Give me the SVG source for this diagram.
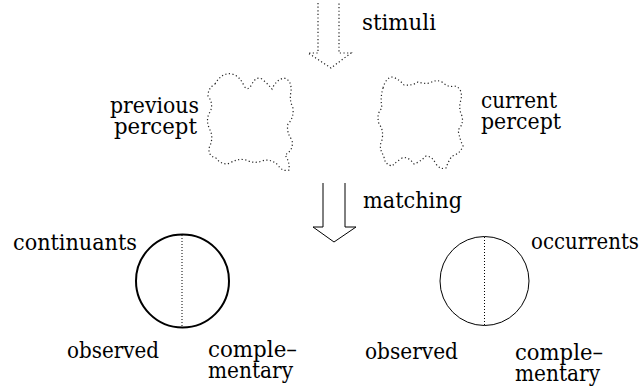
<svg xmlns="http://www.w3.org/2000/svg" width="642" height="390" viewBox="0 0 642 390">
<style>
.t{font-family:'DejaVu Serif','Liberation Serif',serif;font-size:23px;fill:#000}
.t text{lengthAdjust:spacingAndGlyphs}
.dot{fill:none;stroke:#222;stroke-width:1.2;stroke-dasharray:1.2 2.4}
.solid{fill:none;stroke:#000;stroke-width:1}
.vline{stroke:#000;stroke-width:1;stroke-dasharray:1 2}
</style>
<rect width="642" height="390" fill="#fff"/>
<g id="connectors">
<path id="stimuli-arrow" class="dot" d="M318,3 L318,53 L308,53 L331,68 L351,53 L339,53 L339,3"/>
<path id="matching-arrow" class="solid" d="M323,183 L323,227 L313,227 L334,242 L356,227 L345,227 L345,183"/>
</g>
<g class="t">
<g id="stimuli-label"><text x="362" y="30" textLength="74" lengthAdjust="spacingAndGlyphs">stimuli</text></g>
<g id="matching-label"><text x="363" y="208" textLength="99" lengthAdjust="spacingAndGlyphs">matching</text></g>
<g id="previous-percept">
<path class="dot" d="M215,84 Q222,72 232,74 Q240,76 244,86 Q248,92 252,84 Q256,76 262,79 Q268,84 272,89 Q276,80 284,78 Q292,80 291,92 Q289,100 293,108 Q294,118 288,124 Q286,132 292,140 Q294,150 285,155 Q290,162 289,170 Q282,172 278,165 Q270,158 262,161 Q254,164 246,160 Q238,158 230,163 Q222,166 216,158 Q208,156 209,148 Q214,138 210,130 Q205,120 210,112 Q214,104 208,96 Q208,88 215,84 Z"/>
<text x="110" y="113" textLength="89" lengthAdjust="spacingAndGlyphs">previous</text>
<text x="114" y="134" textLength="83" lengthAdjust="spacingAndGlyphs">percept</text>
</g>
<g id="current-percept">
<path class="dot" d="M383,88 Q386,77 393,77 Q400,80 404,85 Q412,86 418,82 Q424,84 430,83 Q436,79 442,82 Q448,88 456,86 Q463,90 461,100 Q458,108 462,116 Q464,124 458,130 Q460,140 463,146 Q460,154 452,156 Q448,162 446,168 Q440,170 436,164 Q432,156 426,156 Q420,162 414,164 Q408,156 402,158 Q396,162 392,166 Q384,164 384,156 Q378,148 382,140 Q384,130 379,124 Q376,114 382,108 Q380,98 383,88 Z"/>
<text x="481" y="108" textLength="76" lengthAdjust="spacingAndGlyphs">current</text>
<text x="481" y="129" textLength="80" lengthAdjust="spacingAndGlyphs">percept</text>
</g>
<g id="continuants">
<circle cx="182.5" cy="281" r="46.5" fill="none" stroke="#000" stroke-width="2"/>
<line class="vline" x1="182" y1="235" x2="182" y2="327"/>
<text x="13" y="250" textLength="124" lengthAdjust="spacingAndGlyphs">continuants</text>
<text x="67" y="358" textLength="92" lengthAdjust="spacingAndGlyphs">observed</text>
<text x="208" y="357" textLength="89" lengthAdjust="spacingAndGlyphs">comple–</text>
<text x="208" y="378" textLength="85" lengthAdjust="spacingAndGlyphs">mentary</text>
</g>
<g id="occurrents">
<circle cx="484.5" cy="281" r="44.5" fill="none" stroke="#000" stroke-width="1"/>
<line class="vline" x1="484.5" y1="237" x2="484.5" y2="325"/>
<text x="531" y="249" textLength="108" lengthAdjust="spacingAndGlyphs">occurrents</text>
<text x="365" y="359" textLength="93" lengthAdjust="spacingAndGlyphs">observed</text>
<text x="515" y="360" textLength="88" lengthAdjust="spacingAndGlyphs">comple–</text>
<text x="515" y="381" textLength="85" lengthAdjust="spacingAndGlyphs">mentary</text>
</g>
</g>
</svg>
